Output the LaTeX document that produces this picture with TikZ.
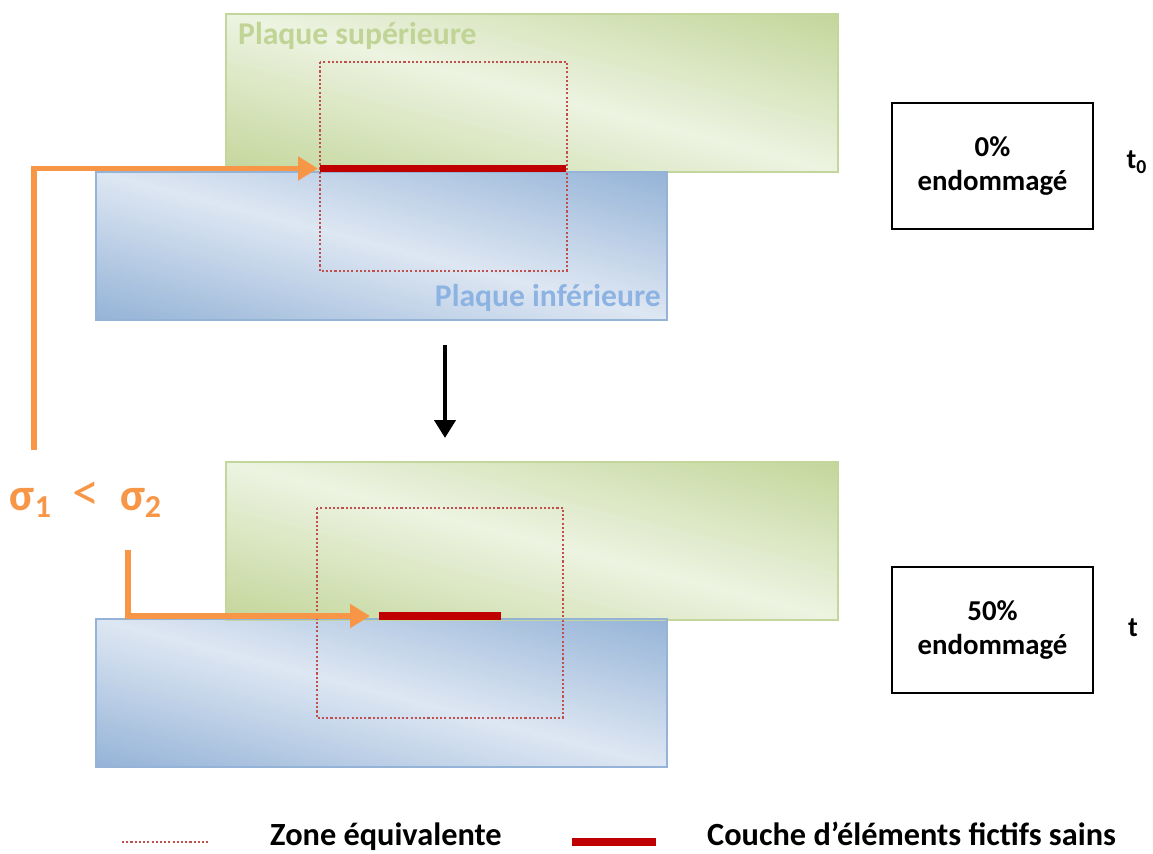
\documentclass[tikz,border=0pt]{standalone}
\usepackage{fontspec}
\setmainfont{Carlito}
\usetikzlibrary{positioning,arrows.meta,calc}
\definecolor{pqGreenD}{RGB}{195,214,155}
\definecolor{pqGreenL}{RGB}{237,243,225}
\definecolor{pqGreenT}{RGB}{192,212,150}
\definecolor{pqBlueD}{RGB}{149,179,215}
\definecolor{pqBlueL}{RGB}{222,231,243}
\definecolor{pqBlueT}{RGB}{141,179,226}
\definecolor{pqOrange}{RGB}{247,150,70}
\definecolor{pqRed}{RGB}{192,0,0}
\definecolor{pqZone}{RGB}{192,80,77}

% degrade en bandes diagonales : x0, y0, largeur, hauteur, fonce, clair
\newcommand{\plaquegrad}[6]{%
  \begin{scope}[shift={(#1,#2)}, xscale=#3, yscale=#4]
    \clip (0,0) rectangle (1,1);
    \foreach \c in {-1,-0.975,...,1} {
      \pgfmathsetmacro\m{min(100,100*abs(\c+0.0125))}
      \fill[#5!\m!#6] (\c,0) -- (\c+0.05,0) -- (\c+1.05,1) -- (\c+1,1) -- cycle;
    }
  \end{scope}}

\tikzset{
  plaqueSup/.style={draw=pqGreenD, line width=0.8pt,
    minimum width=12.24cm, minimum height=3.16cm, inner sep=0pt, outer sep=0pt, anchor=north west},
  plaqueInf/.style={draw=pqBlueD, line width=0.8pt,
    minimum width=11.42cm, minimum height=2.96cm, inner sep=0pt, outer sep=0pt, anchor=north west},
  zone/.style={draw=pqZone, line width=1.2pt, dash pattern=on 1.2pt off 1.2pt},
  couche/.style={draw=pqRed, line width=4pt},
  fleche/.style={draw=pqOrange, line width=3.4pt, -{Triangle[length=0.4cm,width=0.46cm]}},
  etatbox/.style={draw, line width=0.8pt, minimum width=4.02cm, minimum height=2.52cm,
    align=center, font=\bfseries\fontsize{16.4}{19.8}\selectfont},
  legende/.style={anchor=base west, font=\bfseries\fontsize{18.4}{22}\selectfont}
}

\begin{document}
\begin{tikzpicture}[x=0.02cm, y=-0.02cm]
  \useasboundingbox (0,0) rectangle (1153,854);

  % Etat initial
  \plaquegrad{226}{14}{612}{158}{pqGreenD}{pqGreenL}
  \plaquegrad{96}{172}{571}{148}{pqBlueD}{pqBlueL}
  \node[plaqueSup] (sup0) at (226,14) {};
  \node[plaqueInf] (inf0) at (96,172) {};
  \node[anchor=north west, text=pqGreenT, font=\bfseries\fontsize{18}{20}\selectfont] (lsup) at (232,16) {Plaque supérieure};
  \node[anchor=south east, text=pqBlueT, font=\bfseries\fontsize{18}{20}\selectfont] (linf) at (667,318) {Plaque inférieure};
  \draw[zone] (320,62) rectangle (567,271);
  \coordinate (c0a) at (320,168.5);
  \coordinate (c0b) at (566,168.5);
  \draw[couche] (c0a) -- (c0b);

  % Etat endommage
  \plaquegrad{226}{462}{612}{157}{pqGreenD}{pqGreenL}
  \plaquegrad{96}{619}{571}{148}{pqBlueD}{pqBlueL}
  \node[plaqueSup] (sup1) at (226,462) {};
  \node[plaqueInf] (inf1) at (96,619) {};
  \draw[zone] (317,508) rectangle (563,718);
  \coordinate (c1a) at (379,616);
  \coordinate (c1b) at (501,616);
  \draw[couche] (c1a) -- (c1b);

  % Passage t0 -> t
  \coordinate (pa) at (445,345);
  \coordinate (pb) at (445,438);
  \draw[line width=2.4pt, -{Triangle[length=0.36cm,width=0.42cm]}] (pa) -- (pb);

  % Contraintes
  \node[text=pqOrange, font=\bfseries\fontsize{26}{28}\selectfont] (sig) at (86,500)
    {σ\textsubscript{1}\hspace{0.45em}{\mdseries\fontsize{31}{33}\selectfont<}\hspace{0.45em}σ\textsubscript{2}};
  \coordinate (s1) at (34,450);
  \coordinate (s2) at (128,550);
  \draw[fleche] (s1) |- ($(c0a)+(-2,0)$);
  \draw[fleche] (s2) |- ($(c1a)+(-9,0)$);

  % Etats
  \node[etatbox] (e0) at (992.5,166) {0\%\\endommagé};
  \node[etatbox] (e1) at (992.5,630) {50\%\\endommagé};
  \node[font=\bfseries\fontsize{16}{18}\selectfont] (t0) at (1137,162) {t\textsubscript{0}};
  \node[font=\bfseries\fontsize{16}{18}\selectfont] (t1) at (1133,628) {t};

  % Legende
  \coordinate (lz1) at (122,842);
  \coordinate (lz2) at (208,842);
  \draw[zone] (lz1) -- (lz2);
  \node[legende] (lzone) at (264,845) {Zone équivalente};
  \coordinate (lc1) at (572,842);
  \coordinate (lc2) at (656,842);
  \draw[couche] (lc1) -- (lc2);
  \node[legende] (lcouche) at (701,845) {Couche d’éléments fictifs sains};
\end{tikzpicture}
\end{document}
